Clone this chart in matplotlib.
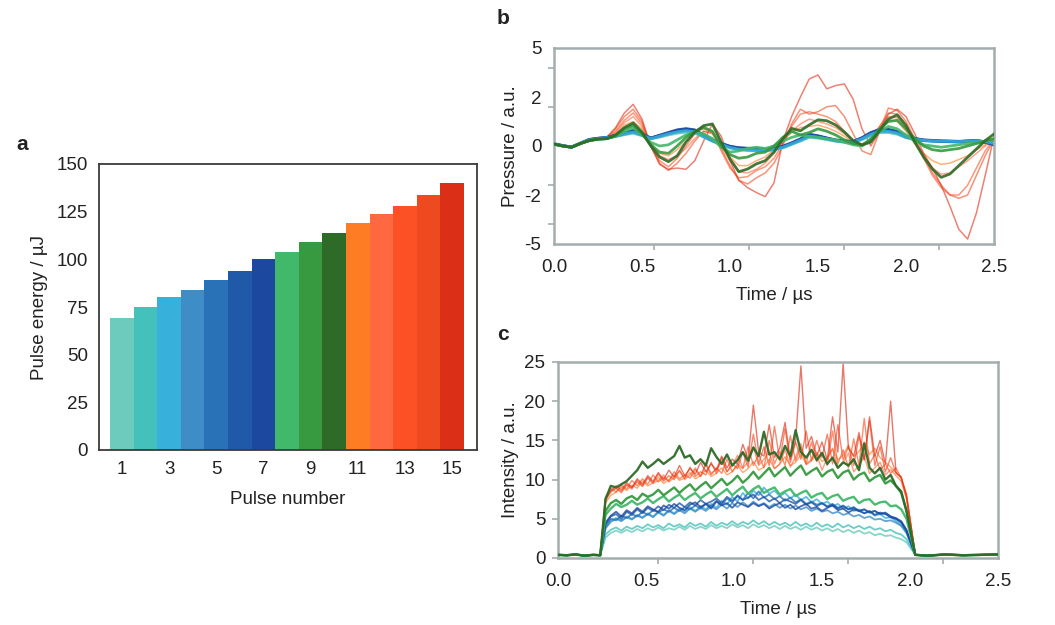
import numpy as np
import matplotlib
matplotlib.use("Agg")
import matplotlib.pyplot as plt
from matplotlib.ticker import FixedLocator

plt.rcParams['font.family'] = ['Liberation Sans', 'DejaVu Sans']

# ---------------- Panel a data ----------------
pulse_numbers = list(range(1, 16))
pulse_energy = [69, 75, 80, 84, 89, 94, 100, 104, 109, 114, 119, 124, 128, 134, 140]
pulse_colors = ['#6ccbbd', '#45c1bb', '#38b0dc', '#3e8dc6', '#2a72b8', '#2059a8', '#1c48a0',
                '#42b86b', '#379a40', '#2e6b28',
                '#fd7c24', '#ff6840', '#fc5124', '#ee4a20', '#dc2f18']
a_xticks = [1, 3, 5, 7, 9, 11, 13, 15]
a_yticks = [0, 25, 50, 75, 100, 125, 150]

# ---------------- Panel b data (pressure, a.u., sampled every 0.05 us) ----------------
p1 = [0.06,0.0,-0.04,0.1,0.22,0.28,0.32,0.38,0.46,0.52,0.42,0.3,0.36,0.45,0.52,0.56,0.52,0.36,0.2,0.05,-0.08,-0.15,-0.18,-0.2,-0.2,-0.16,-0.08,0.06,0.2,0.35,0.32,0.26,0.2,0.16,0.14,0.26,0.42,0.54,0.55,0.48,0.34,0.26,0.22,0.2,0.2,0.2,0.19,0.2,0.2,0.16,0.1]
p2 = [0.07,0.0,-0.05,0.1,0.23,0.29,0.33,0.4,0.48,0.55,0.44,0.31,0.38,0.48,0.56,0.6,0.56,0.38,0.2,0.06,-0.07,-0.14,-0.17,-0.19,-0.19,-0.15,-0.07,0.08,0.22,0.38,0.34,0.28,0.2,0.16,0.15,0.28,0.45,0.58,0.58,0.5,0.35,0.27,0.22,0.2,0.19,0.19,0.18,0.2,0.21,0.17,0.09]
p3 = [0.08,0.0,-0.05,0.11,0.25,0.3,0.34,0.41,0.5,0.57,0.45,0.3,0.4,0.5,0.58,0.63,0.58,0.4,0.22,0.07,-0.06,-0.13,-0.16,-0.18,-0.18,-0.14,-0.05,0.09,0.24,0.4,0.36,0.29,0.22,0.18,0.16,0.3,0.48,0.6,0.6,0.53,0.37,0.28,0.23,0.21,0.2,0.19,0.18,0.2,0.22,0.18,0.1]
p4 = [0.08,0.0,-0.05,0.1,0.25,0.3,0.33,0.4,0.5,0.58,0.45,0.3,0.4,0.5,0.6,0.65,0.6,0.4,0.22,0.08,-0.04,-0.1,-0.12,-0.15,-0.16,-0.12,-0.04,0.1,0.25,0.42,0.37,0.3,0.22,0.18,0.16,0.3,0.49,0.62,0.62,0.55,0.37,0.28,0.22,0.2,0.18,0.17,0.16,0.18,0.2,0.15,0.06]
p5 = [0.09,0.01,-0.05,0.1,0.26,0.31,0.34,0.42,0.52,0.6,0.47,0.31,0.42,0.52,0.62,0.67,0.62,0.42,0.23,0.09,-0.03,-0.09,-0.11,-0.13,-0.15,-0.11,-0.03,0.11,0.27,0.44,0.39,0.31,0.23,0.19,0.17,0.32,0.51,0.64,0.64,0.56,0.38,0.29,0.23,0.21,0.19,0.18,0.17,0.19,0.21,0.15,0.05]
p6 = [0.09,0.01,-0.04,0.11,0.26,0.31,0.35,0.43,0.53,0.62,0.48,0.32,0.43,0.54,0.64,0.69,0.64,0.43,0.24,0.1,-0.02,-0.08,-0.1,-0.12,-0.14,-0.1,-0.02,0.12,0.28,0.46,0.4,0.32,0.24,0.2,0.18,0.33,0.53,0.66,0.66,0.58,0.39,0.3,0.24,0.22,0.2,0.19,0.18,0.2,0.22,0.16,0.05]
p7 = [0.1,0.02,-0.04,0.12,0.27,0.32,0.35,0.44,0.55,0.64,0.5,0.33,0.44,0.55,0.66,0.71,0.66,0.45,0.25,0.11,-0.01,-0.07,-0.09,-0.11,-0.13,-0.09,-0.01,0.13,0.29,0.48,0.42,0.33,0.25,0.21,0.19,0.34,0.55,0.68,0.68,0.6,0.4,0.31,0.25,0.23,0.21,0.2,0.19,0.21,0.23,0.17,0.06]
p8 = [0.08,0.0,-0.05,0.1,0.22,0.28,0.3,0.4,0.6,0.75,0.45,0.15,0.0,0.05,0.25,0.45,0.55,0.5,0.3,-0.05,-0.25,-0.2,-0.1,-0.05,-0.1,0.0,0.2,0.35,0.45,0.4,0.35,0.3,0.25,0.15,0.05,0.0,0.3,0.6,0.8,0.7,0.45,0.2,0.05,0.0,-0.05,0.0,0.05,0.1,0.15,0.2,0.25]
p9 = [0.08,0.0,-0.05,0.1,0.22,0.28,0.3,0.42,0.7,0.85,0.5,0.05,-0.25,-0.3,0.0,0.35,0.6,0.75,0.6,0.0,-0.35,-0.5,-0.45,-0.3,-0.25,0.0,0.35,0.6,0.45,0.55,0.7,0.6,0.45,0.25,0.1,0.05,0.25,0.7,1.0,1.05,0.7,0.3,0.0,-0.15,-0.2,-0.15,-0.1,0.0,0.1,0.2,0.3]
p10 = [0.08,0.0,-0.05,0.1,0.22,0.28,0.3,0.45,0.75,0.94,0.57,0.0,-0.45,-0.64,-0.4,0.16,0.56,0.83,0.9,0.16,-0.53,-1.05,-0.94,-0.73,-0.6,-0.25,0.29,0.72,0.62,0.86,1.07,1.03,0.86,0.57,0.22,0.04,0.16,0.62,1.1,1.27,0.83,0.16,-0.45,-0.94,-1.28,-1.14,-0.8,-0.46,-0.12,0.22,0.49]
p11 = [0.08,0.0,-0.05,0.1,0.22,0.28,0.33,0.5,0.85,1.0,0.7,0.1,-0.3,-0.4,-0.15,0.2,0.55,0.7,0.55,0.05,-0.45,-0.8,-0.8,-0.6,-0.45,-0.15,0.25,0.55,0.75,0.8,0.85,0.75,0.6,0.4,0.15,0.05,0.3,0.75,1.05,1.0,0.6,0.1,-0.3,-0.6,-0.75,-0.7,-0.55,-0.4,-0.15,0.05,0.25]
p12 = [0.08,0.0,-0.05,0.1,0.22,0.28,0.33,0.55,0.95,1.2,0.8,0.05,-0.4,-0.55,-0.4,-0.1,0.3,0.6,0.55,0.0,-0.6,-1.05,-1.1,-0.95,-0.7,-0.3,0.2,0.6,0.9,1.1,1.0,0.9,0.75,0.5,0.2,0.05,0.3,0.8,1.2,1.15,0.7,0.1,-0.4,-0.9,-1.15,-1.1,-0.85,-0.6,-0.3,0.0,0.3]
p13 = [0.08,0.0,-0.05,0.1,0.22,0.28,0.34,0.6,1.05,1.35,0.9,0.0,-0.6,-0.85,-0.5,0.0,0.5,0.8,0.6,-0.2,-0.9,-1.3,-1.25,-1.0,-0.85,-0.5,0.1,0.8,1.3,1.4,1.3,1.2,1.0,0.6,0.2,0.0,0.2,0.8,1.35,1.3,0.9,0.2,-0.5,-1.2,-1.7,-2.0,-2.0,-1.6,-0.9,-0.2,0.3]
p14 = [0.08,0.0,-0.05,0.1,0.22,0.28,0.35,0.7,1.2,1.5,1.0,0.0,-0.7,-1.0,-0.7,-0.3,0.2,0.6,0.5,-0.1,-0.8,-1.4,-1.55,-1.3,-1.1,-0.7,0.0,0.9,1.5,1.3,1.4,1.6,1.65,1.2,0.5,-0.2,-0.35,0.6,1.55,1.45,1.0,0.3,-0.4,-1.1,-1.6,-2.0,-2.2,-2.0,-1.2,-0.4,0.3]
p15 = [0.08,0.0,-0.05,0.1,0.22,0.28,0.35,0.75,1.35,1.7,1.1,0.0,-0.75,-0.95,-0.9,-0.95,-0.6,0.2,0.9,0.4,-0.6,-1.4,-1.7,-1.9,-2.1,-1.5,0.2,1.2,2.0,3.1,3.35,2.5,2.7,2.8,1.9,0.7,0.0,0.6,1.3,1.5,1.2,0.5,-0.3,-0.9,-1.6,-2.7,-4.1,-4.7,-3.1,-1.2,0.4]
pressure = [p1, p2, p3, p4, p5, p6, p7, p8, p9, p10, p11, p12, p13, p14, p15]
b_yticks = [-5, -2, 0, 2, 5]
b_ytick_marks = [-3.75, -1.6, 0, 1.6, 3.8]
time_ticks = [0.0, 0.5, 1.0, 1.5, 2.0, 2.5]
time_tick_marks = [0.57, 1.11, 1.65, 2.19]

# ---------------- Panel c data (intensity, a.u.) ----------------
c_pre_t = [0.0, 0.05, 0.1, 0.15, 0.2, 0.24]
c_pre = [0.4, 0.35, 0.45, 0.3, 0.4, 0.35]
c_post_t = [2.03, 2.1, 2.2, 2.3, 2.4, 2.5]
c_post = [0.4, 0.3, 0.45, 0.35, 0.4, 0.45]
# plateau samples from 0.27 us to 1.98 us
i1 = [2.6,3.2,3.5,3.2,3.6,3.3,3.7,3.4,3.8,3.5,3.9,3.5,3.8,3.6,4.0,3.6,4.1,3.7,4.0,3.7,4.2,3.8,4.1,3.8,4.3,3.9,4.2,3.8,4.3,3.9,4.2,3.8,4.1,3.7,4.1,3.7,4.0,3.6,4.0,3.6,3.9,3.5,3.8,3.4,3.7,3.3,3.6,3.2,3.5,3.1,3.3,2.9,3.1,2.8,2.9,2.6,2.4,2.0]
i2 = [3.0,3.6,3.9,3.5,4.0,3.7,4.1,3.8,4.3,3.9,4.2,3.8,4.4,4.0,4.3,3.9,4.5,4.1,4.4,4.0,4.6,4.1,4.5,4.2,4.7,4.2,4.6,4.3,4.8,4.3,4.7,4.2,4.6,4.2,4.5,4.1,4.6,4.1,4.4,4.0,4.5,4.0,4.3,3.9,4.4,3.9,4.2,3.8,4.1,3.7,4.0,3.6,3.8,3.4,3.6,3.2,3.0,2.4]
i3 = [3.8,4.8,5.1,4.8,5.3,5.0,5.5,5.2,5.7,5.3,5.9,5.5,6.1,5.7,6.3,5.9,6.5,6.0,6.6,6.2,6.9,6.4,7.3,6.8,7.8,7.2,8.3,7.6,8.6,8.0,9.0,8.2,8.6,7.9,8.3,7.6,8.1,7.4,7.8,7.1,7.5,6.9,7.2,6.6,6.9,6.3,6.6,6.0,6.2,5.7,5.9,5.4,5.6,5.1,5.2,4.7,4.2,3.2]
i4 = [3.8,4.6,5.0,4.7,5.2,4.9,5.4,5.1,5.6,5.2,5.8,5.4,6.0,5.6,6.1,5.7,6.3,5.9,6.4,6.0,6.6,6.2,6.8,6.3,7.0,6.5,7.1,6.6,7.2,6.7,7.0,6.5,6.9,6.4,6.8,6.3,6.7,6.2,6.5,6.0,6.3,5.9,6.1,5.7,5.9,5.5,5.7,5.3,5.5,5.1,5.3,4.9,5.0,4.7,4.8,4.5,4.1,3.2]
i5 = [4.1,5.0,4.8,5.4,5.1,5.6,5.3,5.9,5.5,6.1,5.8,6.2,5.9,6.4,6.0,6.5,6.2,6.7,6.3,6.9,6.6,7.3,6.8,7.6,7.1,8.0,7.4,8.3,7.6,8.5,7.7,8.1,7.5,7.9,7.3,7.7,7.1,7.5,6.9,7.2,6.8,7.0,6.6,6.9,6.4,6.7,6.2,6.5,6.0,6.2,5.8,6.0,5.6,5.7,5.3,5.0,4.5,3.4]
i6 = [4.3,5.3,5.6,5.0,5.9,5.5,6.2,5.7,6.4,6.0,6.6,6.1,6.8,6.4,7.0,6.5,7.1,6.7,7.4,6.9,7.2,7.6,7.0,7.8,7.3,7.9,7.4,7.7,8.1,7.4,7.8,7.2,7.6,7.0,7.5,7.2,6.9,7.4,6.8,7.1,6.6,7.0,6.5,6.8,6.3,6.6,6.2,6.4,6.0,6.2,5.8,6.0,5.6,5.8,5.3,5.1,4.7,3.6]
i7 = [4.5,5.4,5.9,5.3,6.1,5.7,6.4,5.9,6.6,6.2,5.9,6.7,6.3,6.9,6.4,6.1,6.8,7.1,6.5,6.9,6.3,7.2,6.7,7.0,6.4,7.1,6.8,6.5,7.0,6.6,6.9,6.3,6.7,7.0,6.4,6.8,6.2,6.6,6.9,6.3,6.5,6.0,6.4,6.7,6.1,6.3,5.8,6.2,6.0,5.7,6.0,5.5,5.8,5.6,5.2,5.0,4.6,3.5]
i8 = [5.5,6.3,6.9,6.5,6.8,7.3,6.8,7.1,7.6,7.0,7.5,7.9,7.2,7.7,8.1,7.4,7.9,8.3,7.6,8.1,8.5,7.8,8.3,8.8,8.0,8.6,9.1,8.2,8.8,9.2,8.3,8.7,9.0,8.1,8.5,8.8,7.9,8.3,8.6,7.7,8.1,8.3,7.5,7.9,8.1,7.3,7.6,7.8,7.0,7.4,7.5,6.8,7.1,7.2,6.6,6.7,6.2,5.0]
i9 = [6.0,7.0,7.4,6.9,7.6,7.9,7.4,8.2,7.8,8.1,8.7,8.0,8.5,9.0,8.3,8.9,9.4,8.6,9.2,9.7,8.9,9.5,10.1,9.3,9.8,10.5,9.6,10.2,11.0,10.1,10.8,11.5,10.4,11.0,11.6,10.5,11.2,11.8,10.6,11.1,11.5,10.4,11.0,11.3,10.2,10.9,11.2,10.0,10.6,10.9,9.8,10.3,10.6,9.5,9.9,9.2,8.3,6.0]
i10 = [7.5,9.2,9.0,9.4,9.8,10.5,11.2,12.3,11.5,12.0,12.6,12.0,12.5,13.0,14.3,12.8,13.1,12.0,12.6,11.8,14.0,12.9,12.0,13.2,11.8,12.5,13.5,12.4,14.1,13.0,16.1,13.2,13.5,12.6,14.3,13.0,16.3,13.5,12.8,13.8,12.5,13.4,12.0,12.8,11.5,12.2,11.8,12.6,11.2,14.6,11.5,10.8,11.5,10.0,10.6,9.2,8.5,6.0]
i11 = [7.0,8.0,8.4,9.1,8.6,9.3,8.9,9.8,9.2,9.6,10.3,9.5,10.0,10.6,9.9,10.2,10.9,10.1,10.5,11.2,10.4,10.8,11.5,10.6,11.0,11.8,10.9,11.4,12.3,11.2,11.6,12.6,11.4,12.0,12.9,11.8,12.2,13.2,12.0,12.6,13.5,12.3,12.8,13.9,12.5,13.1,14.4,12.9,13.6,14.8,13.2,14.0,12.8,12.2,11.6,10.9,10.2,8.0]
i12 = [7.2,8.6,8.9,8.3,9.4,9.0,9.7,9.1,10.2,9.5,9.9,10.6,9.7,10.3,11.1,10.0,10.6,11.5,10.4,12.0,10.8,11.3,12.4,11.0,11.8,13.1,11.5,12.2,14.2,11.8,12.6,13.5,11.4,12.0,13.8,11.6,12.9,14.6,11.9,12.4,13.2,11.2,12.8,14.0,11.5,12.1,13.4,11.0,11.8,12.9,10.8,11.5,12.2,10.6,11.3,10.5,9.8,7.5]
i13 = [7.8,8.9,8.4,9.3,8.8,9.9,9.2,10.1,9.4,10.6,9.7,10.3,9.8,11.0,10.1,10.6,10.2,11.3,10.4,12.0,10.6,11.5,10.8,12.6,11.0,12.0,11.4,14.2,11.8,13.2,11.5,15.0,12.0,13.6,11.8,15.6,12.4,14.2,12.0,14.8,12.3,13.4,11.8,16.2,12.0,13.8,11.5,15.2,11.8,17.8,12.0,13.2,11.2,12.0,10.8,11.5,10.2,8.2]
i14 = [7.5,8.4,8.9,8.5,9.3,8.8,9.9,9.2,10.3,9.6,10.7,9.8,10.5,10.0,11.2,10.2,11.6,10.4,11.0,10.6,12.2,10.8,12.8,11.0,12.0,11.4,13.5,11.6,15.8,12.0,14.2,11.8,16.8,12.4,16.5,12.2,14.8,12.6,16.2,12.4,15.0,12.8,15.8,12.0,17.0,12.5,14.2,11.8,15.5,12.6,17.5,11.8,14.2,11.0,12.8,10.8,10.4,7.8]
i15 = [7.6,8.6,9.2,8.7,9.6,9.0,10.1,9.4,10.5,9.8,10.9,10.0,11.2,10.3,11.8,10.5,11.4,10.7,12.2,11.0,12.0,11.2,13.0,11.5,12.6,12.0,14.5,12.6,19.5,13.5,13.0,17.0,12.8,14.0,17.3,12.6,15.0,24.5,14.0,15.5,13.0,14.8,12.5,18.0,13.5,24.8,14.0,13.0,16.0,12.5,18.0,13.0,15.0,12.0,20.0,11.0,10.2,7.8]
intensity = [i1, i2, i3, i4, i5, i6, i7, i8, i9, i10, i11, i12, i13, i14, i15]
c_yticks = [0, 5, 10, 15, 20, 25]

# ---------------- Figure ----------------
fig = plt.figure(figsize=(10.55, 6.25), dpi=100)
TXT = '#222222'
FS = 13.5
GRAY = '#a3adad'

# Panel a
axa = fig.add_axes([0.0938, 0.28, 0.3583, 0.4576])
axa.bar(pulse_numbers, pulse_energy, width=1.0, color=pulse_colors, linewidth=0)
axa.set_xlim(0.03, 16.05)
axa.set_ylim(0, 150)
axa.set_xticks(a_xticks)
axa.set_yticks(a_yticks)
axa.tick_params(length=0, labelsize=FS, labelcolor=TXT, pad=8)
for s in axa.spines.values():
    s.set_color('#3a3a3a')
    s.set_linewidth(1.3)
axa.set_xlabel('Pulse number', fontsize=FS, color=TXT, labelpad=9)
axa.set_ylabel('Pulse energy / \u00b5J', fontsize=FS, color=TXT, labelpad=6)

# Panel b (nonlinear pressure axis)
def fwd(y):
    y = np.asarray(y, dtype=float)
    a = np.abs(y)
    return np.where(a <= 2, y / 2.0, np.sign(y) * (1 + (a - 2) / 3.0))

def inv(s):
    s = np.asarray(s, dtype=float)
    a = np.abs(s)
    return np.where(a <= 1, 2.0 * s, np.sign(s) * (2 + 3 * (a - 1)))

axb = fig.add_axes([0.5251, 0.6096, 0.4171, 0.3136])
axb.set_yscale('function', functions=(fwd, inv))
order_b = [10, 11, 12, 13, 14, 0, 1, 3, 4, 5, 6, 2, 7, 8, 9]
for k in order_b:
    y = pressure[k]
    t = np.linspace(0, 2.5, len(y))
    if k >= 10:
        axb.plot(t, y, color=pulse_colors[k], lw=1.1, alpha=0.6, zorder=2)
    elif k >= 7:
        axb.plot(t, y, color=pulse_colors[k], lw=2.0, alpha=0.9, zorder=3)
    else:
        axb.plot(t, y, color=pulse_colors[k], lw=2.0, alpha=0.85, zorder=2.5)
axb.set_xlim(0, 2.5)
axb.set_ylim(-5, 5)
axb.yaxis.set_major_locator(FixedLocator(b_yticks))
axb.set_yticklabels([str(v) for v in b_yticks])
axb.yaxis.set_minor_locator(FixedLocator(b_ytick_marks))
axb.xaxis.set_major_locator(FixedLocator(time_ticks))
axb.set_xticklabels(['%.1f' % v for v in time_ticks])
axb.xaxis.set_minor_locator(FixedLocator(time_tick_marks))

# Panel c
axc = fig.add_axes([0.5289, 0.1072, 0.4171, 0.3136])
order_c = [10, 11, 12, 13, 14, 0, 1, 2, 3, 4, 5, 6, 7, 8, 9]
for k in order_c:
    plateau = intensity[k]
    tp = np.linspace(0.27, 1.98, len(plateau))
    t = np.concatenate([c_pre_t, tp, c_post_t])
    y = np.concatenate([c_pre, plateau, c_post])
    if k >= 10:
        axc.plot(t, y, color=pulse_colors[k], lw=1.0, alpha=0.65, zorder=2)
    elif k >= 7:
        axc.plot(t, y, color=pulse_colors[k], lw=1.7, alpha=0.95, zorder=3)
    else:
        axc.plot(t, y, color=pulse_colors[k], lw=1.3, alpha=0.8, zorder=2.5)
axc.set_xlim(0, 2.5)
axc.set_ylim(0, 25)
axc.set_yticks(c_yticks)
axc.xaxis.set_major_locator(FixedLocator(time_ticks))
axc.set_xticklabels(['%.1f' % v for v in time_ticks])
axc.xaxis.set_minor_locator(FixedLocator(time_tick_marks))

for ax in (axb, axc):
    for s in ax.spines.values():
        s.set_color(GRAY)
        s.set_linewidth(1.8)
    ax.tick_params(which='major', axis='x', length=0, labelsize=FS, labelcolor=TXT, pad=11)
    ax.tick_params(which='minor', axis='x', length=4, width=1.2, color=GRAY, direction='out')
    ax.set_xlabel('Time / \u00b5s', fontsize=FS, color=TXT, labelpad=8)
axb.tick_params(which='major', axis='y', length=0, labelsize=FS, labelcolor=TXT, pad=9)
axb.tick_params(which='minor', axis='y', length=4, width=1.2, color=GRAY, direction='out')
axc.tick_params(which='major', axis='y', length=4, width=1.2, color=GRAY, labelsize=FS,
                labelcolor=TXT, pad=5, direction='out')
axb.set_ylabel('Pressure / a.u.', fontsize=FS, color=TXT, labelpad=4)
axc.set_ylabel('Intensity / a.u.', fontsize=FS, color=TXT, labelpad=4)

fig.text(0.021, 0.768, 'a', fontsize=15, fontweight='bold', color=TXT, ha='center', va='center')
fig.text(0.477, 0.971, 'b', fontsize=15, fontweight='bold', color=TXT, ha='center', va='center')
fig.text(0.477, 0.464, 'c', fontsize=15, fontweight='bold', color=TXT, ha='center', va='center')

fig.savefig('out.png', dpi=100)
